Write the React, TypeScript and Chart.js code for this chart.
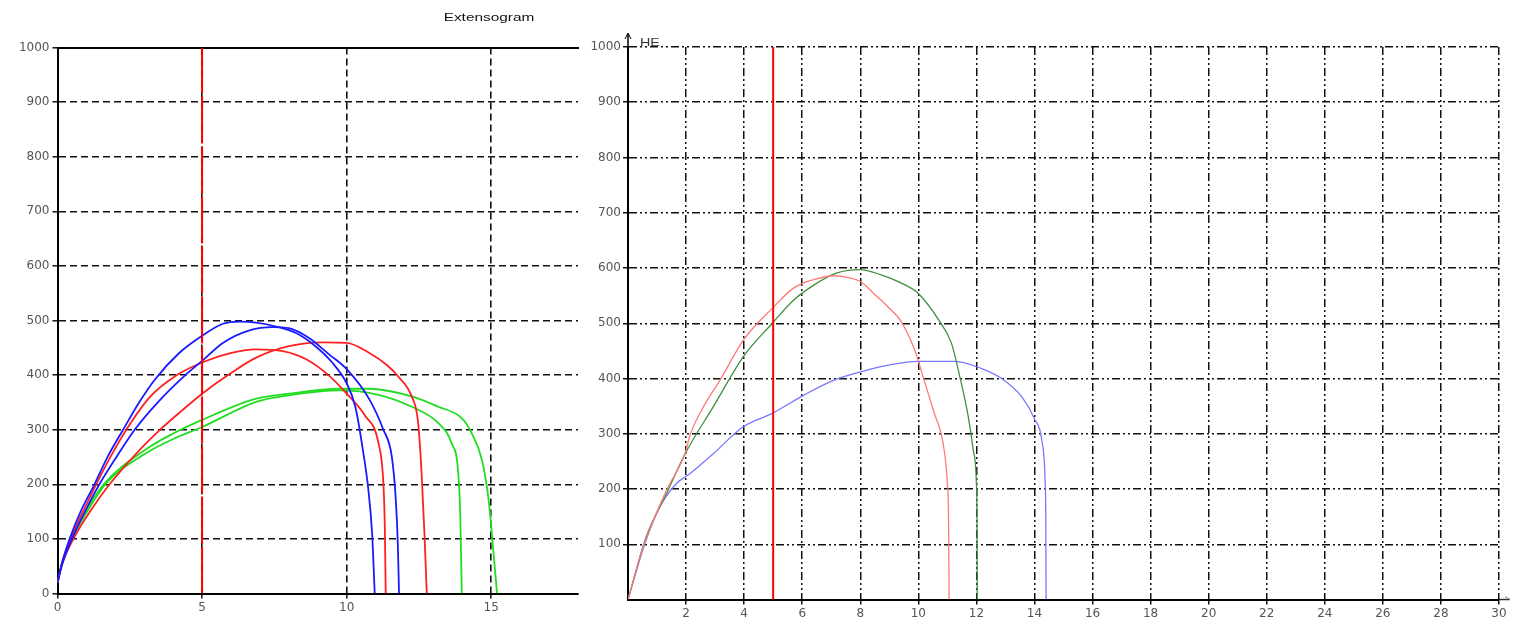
import React, { useEffect, useRef } from 'react';
import { Chart, registerables } from 'chart.js';
Chart.register(...registerables);

// ---------- Left chart (Extensogram) ----------
const leftTitle = 'Extensogram';
const leftXTicks = [0, 5, 10, 15];
const leftYTicks = [0, 100, 200, 300, 400, 500, 600, 700, 800, 900, 1000];
const leftMarkerX = 5;

const blue1X = [0, 0.15, 0.42, 0.8, 1.28, 1.75, 2.27, 2.8, 3.37, 4.2, 5.0, 5.72, 6.3, 6.87, 7.56, 8.25, 8.94, 9.5, 10.0, 10.3, 10.54, 10.75, 10.88, 10.97];
const blue1Y = [20, 55, 100, 150, 200, 252, 300, 348, 392, 440, 472, 494, 498, 496, 489, 477, 452, 423, 385, 342, 270, 190, 110, 0];
const blue2X = [0, 0.15, 0.5, 0.95, 1.45, 2.0, 2.67, 3.5, 4.42, 5.0, 5.72, 6.64, 7.44, 8.0, 8.7, 9.39, 10.0, 10.77, 11.27, 11.56, 11.7, 11.77, 11.81];
const blue2Y = [20, 52, 100, 150, 200, 247, 300, 352, 400, 426, 459, 482, 488, 486, 468, 438, 411, 357, 300, 251, 171, 90, 0];
const red1X = [0, 0.15, 0.45, 0.88, 1.34, 1.85, 2.38, 3.2, 4.13, 5.0, 5.95, 6.87, 7.79, 8.6, 9.39, 10.0, 10.63, 11.1, 11.27, 11.32, 11.35];
const red1Y = [20, 55, 100, 150, 200, 252, 300, 360, 400, 423, 440, 447, 444, 429, 399, 366, 326, 275, 202, 120, 0];
const red2X = [0, 0.15, 0.55, 1.15, 1.8, 2.7, 3.55, 4.3, 5.0, 5.95, 6.87, 8.0, 9.16, 10.0, 10.77, 11.4, 11.79, 12.25, 12.46, 12.58, 12.69, 12.77];
const red2Y = [20, 52, 100, 152, 200, 255, 300, 335, 366, 402, 432, 453, 460, 459, 441, 418, 397, 361, 318, 232, 110, 0];
const green1X = [0, 0.15, 0.5, 1.05, 1.65, 3.0, 4.0, 5.0, 6.87, 8.0, 9.74, 11.1, 12.25, 13.17, 13.63, 13.86, 13.93, 13.98];
const green1Y = [20, 52, 100, 152, 200, 255, 283, 305, 351, 363, 372, 364, 342, 312, 275, 220, 141, 0];
const green2X = [0, 0.15, 0.5, 1.0, 1.6, 3.0, 4.0, 5.0, 6.87, 8.0, 9.74, 10.77, 12.25, 13.17, 13.98, 14.33, 14.68, 14.91, 15.08, 15.2];
const green2Y = [20, 52, 100, 152, 200, 262, 293, 318, 357, 366, 375, 375, 361, 342, 321, 293, 244, 171, 73, 0];

// ---------- Right chart (HE) ----------
const rightAxisLabel = 'HE';
const rightXTicks = [2, 4, 6, 8, 10, 12, 14, 16, 18, 20, 22, 24, 26, 28, 30];
const rightYTicks = [100, 200, 300, 400, 500, 600, 700, 800, 900, 1000];
const rightMarkerX = 5;

const rRedX = [0, 0.52, 1.33, 1.97, 2.14, 2.6, 3.17, 3.98, 4.97, 5.71, 6.4, 7.1, 7.56, 8.02, 8.48, 8.95, 9.41, 9.87, 10.2, 10.55, 10.85, 11.0, 11.04, 11.06];
const rRedY = [0, 95, 198, 265, 298, 349, 397, 470, 527, 564, 579, 586, 583, 575, 553, 530, 503, 452, 397, 337, 283, 210, 150, 0];
const rGreenX = [0, 0.63, 1.33, 1.97, 2.94, 3.98, 4.97, 5.71, 6.4, 7.2, 8.0, 8.7, 9.4, 10.0, 10.7, 11.14, 11.43, 11.72, 11.89, 12.0, 12.02, 12.03];
const rGreenY = [0, 114, 192, 264, 349, 440, 500, 542, 569, 591, 597, 588, 573, 554, 506, 464, 403, 331, 271, 210, 150, 0];
const rBlueX = [0, 0.58, 1.1, 1.67, 2.14, 2.94, 3.98, 4.97, 6.06, 7.1, 8.02, 9.06, 9.98, 11.25, 12.18, 12.87, 13.56, 14.02, 14.25, 14.37, 14.39, 14.4];
const rBlueY = [0, 101, 168, 210, 228, 264, 313, 337, 370, 397, 412, 425, 431, 431, 418, 400, 367, 325, 289, 210, 150, 0];

const pts = (xs: number[], ys: number[]) => xs.map((x, i) => ({ x, y: ys[i] }));

const tickFont = { family: 'DejaVu Sans', size: 12 };
const tickColor = '#555';

function curve(xs: number[], ys: number[], color: string, width: number) {
  return {
    data: pts(xs, ys),
    borderColor: color,
    borderWidth: width,
    pointRadius: 0,
    cubicInterpolationMode: 'monotone' as const,
    fill: false,
  };
}

function marker(x: number, dash: number[]) {
  return {
    data: [{ x, y: 0 }, { x, y: 1000 }],
    borderColor: '#ff0000',
    borderWidth: 2,
    borderDash: dash,
    pointRadius: 0,
    tension: 0,
    fill: false,
  };
}

const leftDecor = {
  id: 'leftDecor',
  afterDraw(chart: any) {
    const ctx = chart.ctx;
    ctx.save();
    ctx.font = '11px "Liberation Sans"';
    ctx.fillStyle = '#111';
    ctx.textAlign = 'center';
    ctx.textBaseline = 'middle';
    ctx.translate(489, 18);
    ctx.scale(1.4, 1);
    ctx.fillText(leftTitle, 0, 0);
    ctx.restore();
  },
};

const rightDecor = {
  id: 'rightDecor',
  afterDraw(chart: any) {
    const ctx = chart.ctx;
    const { left, right, top, bottom } = chart.chartArea;
    ctx.save();
    ctx.strokeStyle = '#000';
    ctx.lineWidth = 1.5;
    ctx.beginPath();
    ctx.moveTo(left, top);
    ctx.lineTo(left, top - 13);
    ctx.stroke();
    ctx.lineWidth = 1;
    ctx.beginPath();
    ctx.moveTo(left - 3, top - 8);
    ctx.lineTo(left, top - 14);
    ctx.lineTo(left + 3, top - 8);
    ctx.stroke();
    ctx.strokeStyle = '#333';
    ctx.lineWidth = 1.5;
    ctx.beginPath();
    ctx.moveTo(right, bottom);
    ctx.lineTo(right + 11, bottom);
    ctx.stroke();
    ctx.strokeStyle = '#888';
    ctx.lineWidth = 1;
    ctx.beginPath();
    ctx.moveTo(right + 6, bottom - 3);
    ctx.lineTo(right + 11, bottom);
    ctx.stroke();
    ctx.font = '11px "Liberation Sans"';
    ctx.fillStyle = '#333';
    ctx.textAlign = 'left';
    ctx.textBaseline = 'middle';
    ctx.translate(left + 12, top - 4);
    ctx.scale(1.3, 1);
    ctx.fillText(rightAxisLabel, 0, 0);
    ctx.restore();
  },
};

function leftConfig(): any {
  return {
    type: 'line',
    data: {
      datasets: [
        marker(leftMarkerX, [47, 3]),
        curve(blue1X, blue1Y, '#1a1aff', 1.8),
        curve(blue2X, blue2Y, '#1a1aff', 1.8),
        curve(red1X, red1Y, '#ff2020', 1.8),
        curve(red2X, red2Y, '#ff2020', 1.8),
        curve(green1X, green1Y, '#22dd22', 1.8),
        curve(green2X, green2Y, '#22dd22', 1.8),
      ],
    },
    options: {
      responsive: false,
      animation: false,
      layout: { padding: { top: 47.5, right: 12, left: 0, bottom: 0 } },
      plugins: { legend: { display: false }, tooltip: { enabled: false }, title: { display: false } },
      scales: {
        x: {
          type: 'linear', min: 0, max: 18,
          afterBuildTicks: (s: any) => { s.ticks = leftXTicks.map((v) => ({ value: v })); },
          afterFit: (s: any) => { s.height = 27.5; },
          ticks: { color: tickColor, font: tickFont, padding: 2, maxRotation: 0, autoSkip: false, callback: (v: any) => String(v) },
          grid: { color: '#111', lineWidth: 1.6, drawTicks: true, tickLength: 5, tickColor: '#111', tickWidth: 1.5 },
          border: { display: true, color: '#000', width: 2, dash: [7, 4] },
        },
        xTop: {
          type: 'linear', position: 'top', min: 0, max: 18,
          afterFit: (s: any) => { s.height = 0; },
          ticks: { display: false },
          grid: { display: false, drawTicks: false },
          border: { display: true, color: '#000', width: 2 },
        },
        y: {
          type: 'linear', min: 0, max: 1000,
          afterBuildTicks: (s: any) => { s.ticks = leftYTicks.map((v) => ({ value: v })); },
          afterFit: (s: any) => { s.width = 57.5; },
          ticks: { color: tickColor, font: tickFont, padding: 3, autoSkip: false, callback: (v: any) => String(v) },
          grid: { color: '#111', lineWidth: 1.6, drawTicks: true, tickLength: 5, tickColor: '#111', tickWidth: 1.5 },
          border: { display: true, color: '#000', width: 2, dash: [7, 4] },
        },
      },
    },
    plugins: [leftDecor],
  };
}

function rightConfig(): any {
  return {
    type: 'line',
    data: {
      datasets: [
        marker(rightMarkerX, []),
        curve(rRedX, rRedY, '#ff7a7a', 1.3),
        curve(rGreenX, rGreenY, '#3f8f3f', 1.3),
        curve(rBlueX, rBlueY, '#7777ff', 1.3),
      ],
    },
    options: {
      responsive: false,
      animation: false,
      layout: { padding: { top: 47, right: 14, left: 0, bottom: 0 } },
      plugins: { legend: { display: false }, tooltip: { enabled: false }, title: { display: false } },
      scales: {
        x: {
          type: 'linear', min: 0, max: 30,
          afterBuildTicks: (s: any) => { s.ticks = rightXTicks.map((v) => ({ value: v })); },
          afterFit: (s: any) => { s.height = 21.5; },
          ticks: { color: tickColor, font: tickFont, padding: 2, maxRotation: 0, autoSkip: false, callback: (v: any) => String(v) },
          grid: { color: '#111', lineWidth: 1.5, drawTicks: true, tickLength: 5, tickColor: '#111', tickWidth: 1.5 },
          border: { display: true, color: '#000', width: 2, dash: [8, 3, 2, 3, 2, 3] },
        },
        y: {
          type: 'linear', min: 0, max: 1000,
          afterBuildTicks: (s: any) => { s.ticks = rightYTicks.map((v) => ({ value: v })); },
          afterFit: (s: any) => { s.width = 38; },
          ticks: { color: tickColor, font: tickFont, padding: 2, autoSkip: false, callback: (v: any) => String(v) },
          grid: { color: '#111', lineWidth: 1.5, drawTicks: true, tickLength: 5, tickColor: '#111', tickWidth: 1.5 },
          border: { display: true, color: '#000', width: 2, dash: [8, 3, 2, 3, 2, 3] },
        },
      },
    },
    plugins: [rightDecor],
  };
}

export default function App() {
  const leftRef = useRef<HTMLCanvasElement>(null);
  const rightRef = useRef<HTMLCanvasElement>(null);
  useEffect(() => {
    const c1 = new Chart(leftRef.current as HTMLCanvasElement, leftConfig());
    const c2 = new Chart(rightRef.current as HTMLCanvasElement, rightConfig());
    return () => {
      c1.destroy();
      c2.destroy();
    };
  }, []);
  return (
    <div style={{ position: 'fixed', left: 0, top: 0, width: 1513, height: 621, background: '#fff' }}>
      <canvas ref={leftRef} width={590} height={621} style={{ position: 'absolute', left: 0, top: 0, width: 590, height: 621 }} />
      <canvas ref={rightRef} width={923} height={621} style={{ position: 'absolute', left: 590, top: 0, width: 923, height: 621 }} />
    </div>
  );
}
